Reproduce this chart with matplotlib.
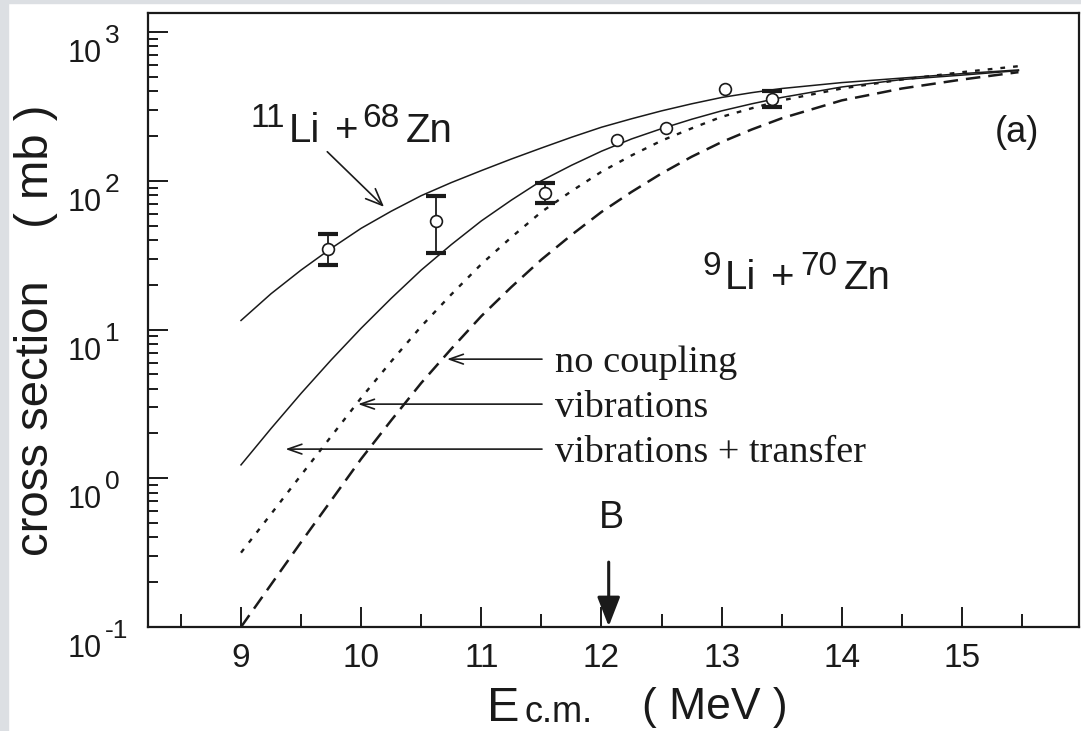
import matplotlib
matplotlib.use('Agg')
import matplotlib.pyplot as plt
import matplotlib.transforms as mtransforms
from matplotlib.patches import Rectangle
from matplotlib.ticker import LogLocator, NullFormatter

plt.rcParams['font.family'] = ['Liberation Sans', 'DejaVu Sans']

### data (cross sections in mb) ###
e_calc = [9.0, 9.25, 9.5, 9.75, 10.0, 10.25, 10.5, 10.75, 11.0, 11.25, 11.5, 11.75,
          12.0, 12.25, 12.5, 12.75, 13.0, 13.25, 13.5, 14.0, 14.5, 15.0, 15.47]
# 11Li + 68Zn
sig_li11 = [11.5, 17.4, 25.1, 35.1, 47.9, 62.4, 79.4, 97.2, 117, 140, 166, 196,
            229, 261, 295, 329, 363, 391, 417, 457, 490, 525, 556]
# 9Li + 70Zn : vibrations + transfer, vibrations, no coupling
sig_vib_tr = [1.23, 2.16, 3.72, 6.24, 10.2, 16.2, 25.1, 37.2, 53.7, 74.1, 100, 127,
              158, 191, 224, 259, 295, 329, 363, 427, 479, 513, 550]
sig_vib = [0.316, 0.575, 1.05, 1.91, 3.47, 6.10, 10.5, 17.2, 27.5, 41.7, 61.7, 85.1,
           115, 148, 186, 225, 269, 307, 347, 417, 479, 537, 589]
sig_nocoup = [0.100, 0.193, 0.372, 0.708, 1.35, 2.45, 4.37, 7.41, 12.3, 19.3, 29.5, 43.2,
              61.7, 84.1, 112, 145, 182, 221, 263, 347, 417, 479, 537]

# measured points
e_exp = [9.72, 10.62, 11.53, 12.13, 12.54, 13.03, 13.42]
sig_exp = [35.0, 53.6, 82.3, 188, 225, 412, 354]
# error bars (only some points have them)
e_err = [9.72, 10.62, 11.53, 13.42]
sig_err_lo = [27.1, 32.8, 70.5, 312]
sig_err_hi = [43.6, 78.9, 97.0, 403]

# ticks
xtick_vals = [9, 10, 11, 12, 13, 14, 15]
xtick_labels = ['9', '10', '11', '12', '13', '14', '15']
xminor_vals = [8.5, 9.5, 10.5, 11.5, 12.5, 13.5, 14.5, 15.5]
ytick_vals = [0.1, 1, 10, 100, 1000]
ytick_exps = ['-1', '0', '1', '2', '3']

# curve labels and where their arrows point
curve_names = ['no coupling', 'vibrations', 'vibrations + transfer']
arrow_tail_e = [11.505, 11.505, 11.505]
arrow_tip_e = [10.714, 9.974, 9.370]
arrow_sig = [6.32, 3.15, 1.57]
barrier_e = 12.06

# reaction labels: (text, size, dx px, dy px) pieces
li11_pieces = [('11', 24, 0, 15), ('Li', 29, 38, 0), ('+', 29, 84, 0), ('68', 24, 111, 15), ('Zn', 29, 155, 0)]
li9_pieces = [('9', 24, 0, 14), ('Li', 29, 23, 0), ('+', 29, 69, 0), ('70', 24, 98, 14), ('Zn', 29, 142, 0)]

INK = '#1a1a1a'

##### PLOTTING #####
fig = plt.figure(figsize=(10.81, 7.31), dpi=100)
ax = fig.add_axes([148/1081, 1 - 627/731, 931/1081, 614/731])

# grey page border
fig.patches.append(Rectangle((0, 0), 8/1081, 1, transform=fig.transFigure, color='#dcdfe3', zorder=0))
fig.patches.append(Rectangle((0, 1 - 3/731), 1, 3/731, transform=fig.transFigure, color='#dcdfe3', zorder=0))

# curves
ax.plot(e_calc, sig_li11, color=INK, lw=1.1)
ax.plot(e_calc, sig_vib_tr, color=INK, lw=1.1)
ax.plot(e_calc, sig_vib, color=INK, lw=1.7, ls=(0, (2.0, 3.4)))
ax.plot(e_calc, sig_nocoup, color=INK, lw=1.8, ls=(0, (5.8, 3.2)))

# error bars + points
ax.vlines(e_err, sig_err_lo, sig_err_hi, color=INK, lw=1.3, zorder=3)
ax.plot(e_err, sig_err_lo, ls='none', marker='_', ms=14, mew=3.0, color=INK, zorder=3)
ax.plot(e_err, sig_err_hi, ls='none', marker='_', ms=14, mew=3.0, color=INK, zorder=3)
ax.plot(e_exp, sig_exp, ls='none', marker='o', ms=8.5, mfc='white', mec=INK, mew=1.2, zorder=5)

# axes setup
ax.set_yscale('log')
ax.set_xlim(8.226, 15.974)
ax.set_ylim(0.1, 1342)
ax.set_xticks(xtick_vals)
ax.set_xticklabels(xtick_labels, fontsize=24, color=INK)
ax.set_xticks(xminor_vals, minor=True)
ax.set_yticks(ytick_vals)
ax.yaxis.set_minor_locator(LogLocator(base=10, subs=range(2, 10)))
ax.yaxis.set_minor_formatter(NullFormatter())
ax.tick_params(axis='y', which='major', labelleft=False)
ax.tick_params(which='both', direction='in', top=False, right=False, width=1.4, color=INK)
ax.tick_params(axis='x', which='major', length=14.4, pad=11.5)
ax.tick_params(axis='x', which='minor', length=9.4)
ax.tick_params(axis='y', which='major', length=14.4)
ax.tick_params(axis='y', which='minor', length=7.2)
for s in ax.spines.values():
    s.set_linewidth(1.6)
    s.set_color(INK)

# y tick labels "10" + raised exponent, sitting below their ticks as in the original
ytrans = mtransforms.blended_transform_factory(ax.transAxes, ax.transData)
base_tr = mtransforms.offset_copy(ytrans, fig=fig, x=-46, y=-30, units='dots')
exp_tr = mtransforms.offset_copy(ytrans, fig=fig, x=-43, y=-11, units='dots')
for v, ex in zip(ytick_vals, ytick_exps):
    ax.text(0, v, '10', transform=base_tr, ha='right', va='baseline', fontsize=22, color=INK)
    ax.text(0, v, ex, transform=exp_tr, ha='left', va='baseline', fontsize=19, color=INK)

# axis labels
fig.text(36/1081, 1 - 330/731, 'cross section    ( mb )', rotation=90, ha='center', va='center',
         fontsize=34, color=INK)
fig.text(487/1081, 1 - 721/731, 'E', fontsize=35, va='baseline', color=INK)
fig.text(525/1081, 1 - 722/731, 'c.m.', fontsize=26, va='baseline', color=INK)
fig.text(642/1081, 1 - 719/731, '( MeV )', fontsize=32, va='baseline', color=INK)


def draw_pieces(pieces, x0, y0):
    for txt, size, dx, dy in pieces:
        tr = mtransforms.offset_copy(ax.transAxes, fig=fig, x=dx, y=dy, units='dots')
        ax.text(x0, y0, txt, transform=tr, fontsize=size, ha='left', va='baseline', color=INK)


# reaction labels
draw_pieces(li11_pieces, 0.1106, 0.7899)
draw_pieces(li9_pieces, 0.5951, 0.5505)
ax.text(0.933, 0.8046, '(a)', transform=ax.transAxes, fontsize=26, ha='center', va='center', color=INK)
ax.annotate('', xy=(10.19, 66.8), xytext=(9.718, 156.7),
            arrowprops=dict(arrowstyle='->,head_length=1.2,head_width=0.5', lw=1.2, color=INK,
                            shrinkA=0, shrinkB=0))

# curve labels (serif, as in the original)
for name, e0, e1, s in zip(curve_names, arrow_tail_e, arrow_tip_e, arrow_sig):
    ax.annotate('', xy=(e1, s), xytext=(e0, s),
                arrowprops=dict(arrowstyle='->,head_length=1.0,head_width=0.35', lw=1.2, color=INK,
                                shrinkA=0, shrinkB=0))
    tt = mtransforms.offset_copy(ax.transData, fig=fig, x=13, y=-13, units='dots')
    ax.text(e0, s, name, transform=tt, family='Liberation Serif', fontsize=27.5, va='baseline', color=INK)

# Coulomb barrier marker
ax.text(0.4973, 0.1775, 'B', transform=ax.transAxes, fontsize=27, ha='center', va='center', color=INK)
ax.annotate('', xy=(barrier_e, 0.101), xytext=(barrier_e, 0.273),
            arrowprops=dict(arrowstyle='-|>,head_length=1.8,head_width=0.7', lw=2.2, color=INK,
                            shrinkA=0, shrinkB=0))

fig.savefig('out.png', dpi=100)
